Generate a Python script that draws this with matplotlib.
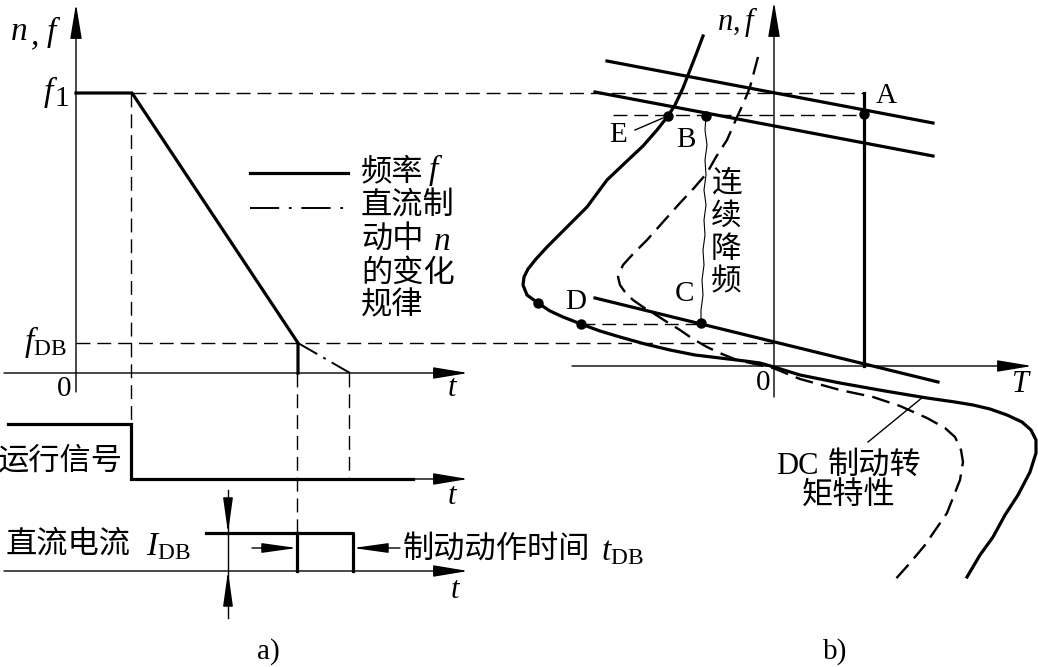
import matplotlib
matplotlib.use("Agg")
import matplotlib.pyplot as plt

plt.rcParams['lines.scale_dashes'] = False
plt.rcParams['mathtext.fontset'] = 'custom'
plt.rcParams['mathtext.rm'] = 'Liberation Serif'
plt.rcParams['mathtext.it'] = 'Liberation Serif:italic'

CJK = ['Noto Sans CJK SC', 'DejaVu Sans']
SERIF = 'Liberation Serif'

# ---- panel a): time diagram (pixel coords read from the picture) ----
f1_y, fdb_y, t0_y = 93, 343, 373
freq_x = [76, 132, 298, 298]
freq_y = [f1_y, f1_y, fdb_y, t0_y]
n_x = [298, 350]
n_y = [fdb_y, t0_y]
run_x = [8, 131, 131, 413]
run_y = [424, 424, 479, 479]
db_top, db_base = 533, 571
db_x0, db_x1 = 297, 353

# ---- panel b): mechanical characteristics ----
line1 = ([607, 933], [61, 123])
line2 = ([595, 933], [92, 156])
line3 = ([595, 938], [298, 382])
solid_x = [703, 697, 690, 683, 675, 668, 657, 643, 627, 607, 587, 567, 547, 536, 528,
           524, 523, 527, 538, 550, 563, 581, 600, 620, 645, 670, 695, 720, 745, 760, 774,
           800, 840, 885, 927, 955, 973, 990, 1007, 1022, 1031, 1036, 1036, 1030, 1018,
           1005, 993, 980, 967]
solid_y = [36, 52, 70, 88, 105, 116, 130, 146, 161, 180, 207, 227, 247, 259, 269,
           277, 285, 295, 303, 311, 317, 324, 331, 337, 344, 350, 355, 358, 361, 363, 367,
           375, 383, 391, 398, 402, 405, 409, 415, 422, 430, 440, 453, 472, 495,
           515, 537, 555, 577]
dash_x = [758, 754, 750, 744, 737, 727, 716, 707, 694, 680, 663, 647, 633, 623, 618,
          620, 625, 633, 643, 653, 667, 680, 693, 707, 722, 737, 755, 773, 800, 840,
          873, 900, 927, 945, 955, 961, 963, 960, 947, 925, 910, 893]
dash_y = [57, 72, 87, 102, 117, 140, 157, 173, 188, 203, 222, 240, 254, 265, 277,
          285, 292, 300, 307, 313, 322, 330, 339, 347, 354, 360, 364, 368, 379, 390,
          397, 406, 418, 428, 437, 450, 462, 480, 513, 545, 563, 582]
wave_x = [706, 705, 707, 705, 706, 704, 706, 704, 705, 703, 704, 702, 703, 701, 701]
wave_y = [116, 130, 145, 160, 175, 190, 205, 220, 235, 250, 265, 280, 295, 310, 323]
pts_x = [864, 668, 706, 701, 538, 581]
pts_y = [114, 116, 116, 323, 303, 324]

fig = plt.figure(figsize=(10.38, 6.67), dpi=100)
ax = fig.add_axes([0, 0, 1, 1])
ax.set_xlim(0, 1038)
ax.set_ylim(667, 0)
ax.axis('off')

THICK, THIN = 2.3, 1.0
DASH = (0, (10, 5))


def arrow(x0, y0, x1, y1, lw=THIN, hl=1.8, hw=0.3):
    ax.annotate('', xy=(x1, y1), xytext=(x0, y0),
                arrowprops=dict(arrowstyle='-|>,head_length=%s,head_width=%s' % (hl, hw),
                                lw=lw, color='k', shrinkA=0, shrinkB=0,
                                mutation_scale=12))


# axes of panel a)
arrow(76, 392, 76, 4)
arrow(4, t0_y, 468, t0_y)
arrow(131, 479, 468, 479)
arrow(4, db_base, 468, db_base)

# guide dashes
ax.plot([132, 864], [f1_y, f1_y], 'k', lw=THIN, ls=DASH)
ax.plot([76, 773], [fdb_y, fdb_y], 'k', lw=THIN, ls=DASH)
ax.plot([131, 131], [f1_y, 424], 'k', lw=THIN, ls=DASH)
ax.plot([297, 297], [t0_y, db_top], 'k', lw=THIN, ls=DASH)
ax.plot([349, 349], [t0_y, 479], 'k', lw=THIN, ls=DASH)

# frequency and speed
ax.plot(freq_x, freq_y, 'k', lw=THICK, solid_joinstyle='miter')
ax.plot(n_x, n_y, 'k', lw=THIN + 0.4, ls=(0, (16, 5, 2, 5)))
ax.plot(run_x, run_y, 'k', lw=THICK, solid_joinstyle='miter')

# DC current pulse
ax.plot([206, db_x1, db_x1], [db_top, db_top, db_base], 'k', lw=THICK)
ax.plot([db_x0, db_x0], [db_top, db_base], 'k', lw=THICK)
ax.plot([228, 228], [490, 618], 'k', lw=THIN)
arrow(228, 505, 228, db_top, hl=1.8, hw=0.25)
arrow(228, 600, 228, db_base, hl=1.8, hw=0.25)
arrow(252, 548, db_x0, 548, hl=1.8, hw=0.25)
arrow(400, 548, db_x1, 548, hl=1.8, hw=0.25)

# legend
ax.plot([250, 348], [173, 173], 'k', lw=THICK)
ax.plot([250, 348], [208, 208], 'k', lw=THIN + 0.4, ls=(0, (21, 7, 2, 7)))

# panel b) axes
arrow(774, 397, 774, 2)
arrow(572, 366, 1032, 366)

ax.plot(*line1, 'k', lw=THICK)
ax.plot(*line2, 'k', lw=THICK)
ax.plot(*line3, 'k', lw=THICK)
ax.plot([864, 864], [93, 366], 'k', lw=THICK)
ax.plot([613, 864], [115, 115], 'k', lw=THIN, ls=DASH)
ax.plot([581, 701], [324, 324], 'k', lw=THIN, ls=DASH)
ax.plot(solid_x, solid_y, 'k', lw=THICK, solid_joinstyle='round')
ax.plot(dash_x, dash_y, 'k', lw=1.7, ls=(0, (13, 6)))
ax.plot(wave_x, wave_y, 'k', lw=0.8)
ax.plot(pts_x, pts_y, 'o', color='k', ms=6.5)
ax.plot([635, 663], [130, 118], 'k', lw=THIN)
ax.plot([868, 923], [442, 397], 'k', lw=THIN)

# ---- text ----
it = dict(family=SERIF, style='italic', ha='center', va='center', color='k')
rm = dict(family=SERIF, ha='center', va='center', color='k')
cj = dict(family=CJK, ha='left', va='center', color='k', fontsize=22.5)

ax.text(19, 32, 'n', fontsize=24, **it)
ax.text(35, 36, ',', fontsize=24, **it)
ax.text(51, 32, 'f', fontsize=24, **it)
ax.text(48, 92, 'f', fontsize=24, **it)
ax.text(62, 99, '1', fontsize=21, **rm)
ax.text(45, 342, '$f_{\\mathrm{DB}}$', fontsize=24, ha='center', va='center')
ax.text(64, 389, '0', fontsize=21, **rm)
ax.text(452, 389, 't', fontsize=22, **it)
ax.text(452, 496, 't', fontsize=22, **it)
ax.text(455, 590, 't', fontsize=22, **it)

ax.text(-2, 461, '运行信号', **cj)
ax.text(6, 544, '直流电流', **cj)
ax.text(168, 546, '$I_{\\mathrm{DB}}$', fontsize=24, ha='center', va='center')
ax.text(403, 549, '制动动作时间', **cj)
ax.text(622, 551, '$t_{\\mathrm{DB}}$', fontsize=24, ha='center', va='center')

ax.text(361, 171, '频率', **cj)
ax.text(433, 170, 'f', fontsize=24, **it)
ax.text(361, 206, '直流制', **cj)
ax.text(361, 240, '动中', **cj)
ax.text(442, 242, 'n', fontsize=24, **it)
ax.text(361, 273, '的变化', **cj)
ax.text(361, 305, '规律', **cj)

ax.text(738, 22, '$n,f$', fontsize=22, ha='center', va='center')
ax.text(763, 383, '0', fontsize=21, **rm)
ax.text(1020, 385, 'T', fontsize=22, **it)
ax.text(886, 96, 'A', fontsize=21, **rm)
ax.text(686, 140, 'B', fontsize=21, **rm)
ax.text(684, 294, 'C', fontsize=21, **rm)
ax.text(576, 302, 'D', fontsize=21, **rm)
ax.text(618, 135, 'E', fontsize=21, **rm)

for ch, yy in zip('连续降频', [183, 216, 249, 282]):
    ax.text(726, yy, ch, family=CJK, ha='center', va='center', fontsize=22)

ax.text(776, 467, 'DC', fontsize=22, family=SERIF, ha='left', va='center')
ax.text(828, 465, '制动转', **cj)
ax.text(802, 496, '矩特性', **cj)

ax.text(268, 652, 'a)', fontsize=21, **rm)
ax.text(835, 652, 'b)', fontsize=21, **rm)

fig.savefig('out.png', dpi=100)
